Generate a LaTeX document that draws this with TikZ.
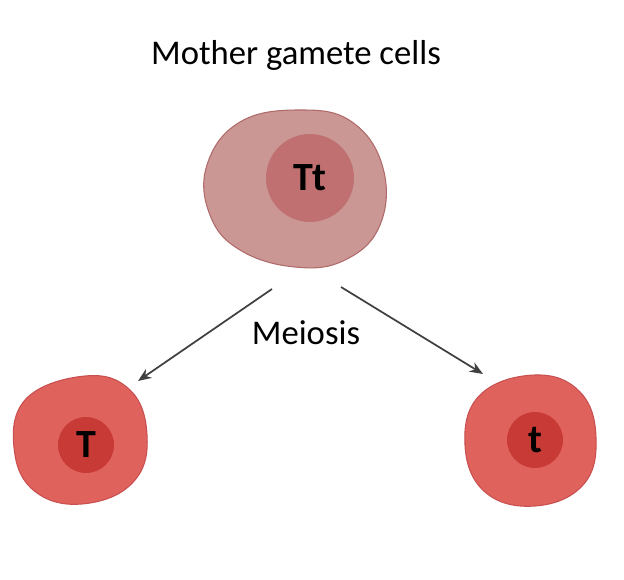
\documentclass[tikz,border=0pt]{standalone}
\usepackage{fontspec}
\setmainfont{Carlito}
\usetikzlibrary{arrows.meta}
\definecolor{bigfill}{HTML}{CB9795}
\definecolor{bigedge}{HTML}{B06A6A}
\definecolor{bignuc}{HTML}{C07070}
\definecolor{smfill}{HTML}{E0625C}
\definecolor{smedge}{HTML}{C85050}
\definecolor{smnuc}{HTML}{C83A35}
\tikzset{
  lbl/.style={font=\fontsize{26}{30}\selectfont, text=black},
  gene/.style={font=\bfseries\fontsize{30}{34}\selectfont, text=black},
  arr/.style={draw=black!75, line width=1.3pt, -{Stealth[length=10pt,width=8pt]}}
}
\begin{document}
\begin{tikzpicture}[x=0.75pt,y=-0.75pt]
\useasboundingbox (0,0) rectangle (624,580);
% big cell
\draw[bigedge, fill=bigfill, line width=0.8pt] plot[smooth cycle, tension=0.7] coordinates
 {(300,110) (352,122) (383,168) (380,225) (345,260) (295,267) (240,250) (210,215) (207,165) (240,122)};
\fill[bignuc] (310,178) circle (44);
\node[gene] (Tt) at (310,178) {Tt};
\node[lbl] (title) at (296,55) {Mother gamete cells};
\node[lbl] (meiosis) at (306,333) {Meiosis};
% left cell
\draw[smedge, fill=smfill, line width=0.8pt] plot[smooth cycle, tension=0.7] coordinates
 {(85,376) (130,390) (147,435) (135,480) (90,503) (40,495) (15,455) (25,400)};
\fill[smnuc] (86,445) circle (28);
\node[gene] (T) at (86,445) {T};
% right cell
\draw[smedge, fill=smfill, line width=0.8pt] plot[smooth cycle, tension=0.7] coordinates
 {(535,375) (580,392) (596,438) (583,485) (535,506) (485,492) (465,445) (480,395)};
\fill[smnuc] (535,440) circle (28);
\node[gene] (t) at (535,440) {t};
% arrows
\coordinate (a1s) at (272,289);
\coordinate (a1e) at (138,381);
\coordinate (a2s) at (341,287);
\coordinate (a2e) at (483,374);
\draw[arr] (a1s) -- (a1e);
\draw[arr] (a2s) -- (a2e);
\end{tikzpicture}
\end{document}
